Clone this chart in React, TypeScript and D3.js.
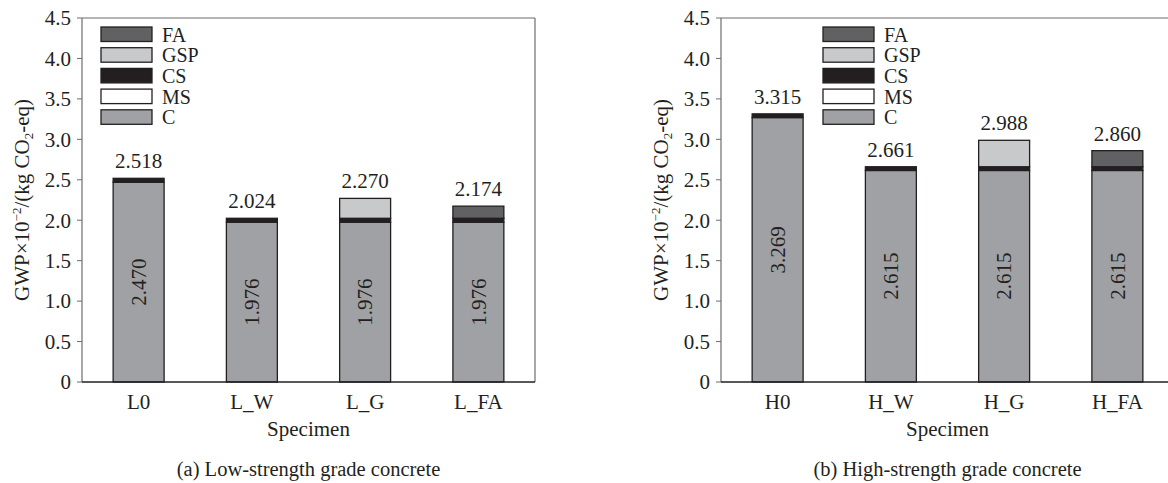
import React from "react";
import * as d3 from "d3";

const keys = ["C", "MS", "CS", "GSP", "FA"];
const legendOrder = ["FA", "GSP", "CS", "MS", "C"];
const colors: Record<string, string> = {
  C: "#a0a1a4",
  MS: "#ffffff",
  CS: "#231f20",
  GSP: "#c8c9cb",
  FA: "#616163",
};

const lowSpecimens = ["L0", "L_W", "L_G", "L_FA"];
const lowC = [2.47, 1.976, 1.976, 1.976];
const lowMS = [0, 0, 0, 0];
const lowCS = [0.048, 0.048, 0.048, 0.048];
const lowGSP = [0, 0, 0.246, 0];
const lowFA = [0, 0, 0, 0.15];

const highSpecimens = ["H0", "H_W", "H_G", "H_FA"];
const highC = [3.269, 2.615, 2.615, 2.615];
const highMS = [0, 0, 0, 0];
const highCS = [0.046, 0.046, 0.046, 0.046];
const highGSP = [0, 0, 0.327, 0];
const highFA = [0, 0, 0, 0.199];

const yTicks = [0, 0.5, 1.0, 1.5, 2.0, 2.5, 3.0, 3.5, 4.0, 4.5];

const FONT = "Liberation Serif, Times New Roman, Times, serif";
const INK = "#231f20";
const FS = 21;

type PanelProps = {
  x0: number;
  specimens: string[];
  series: Record<string, number[]>;
  caption: string;
  legendX: number;
};

function Panel({ x0, specimens, series, caption, legendX }: PanelProps) {
  const top = 18;
  const bottom = 382;
  const width = 453;
  const x1 = x0 + width;
  const y = d3.scaleLinear().domain([0, 4.5]).range([bottom, top]);
  const x = d3
    .scaleBand<string>()
    .domain(specimens)
    .range([x0, x1])
    .paddingInner(0.55)
    .paddingOuter(0.275);
  const rows = specimens.map((s, i) => {
    const r: any = { name: s };
    keys.forEach((k) => (r[k] = series[k][i]));
    return r;
  });
  const stacked = d3.stack<any>().keys(keys)(rows);
  const totals = rows.map((r) => d3.sum(keys, (k) => r[k]));
  const midY = (top + bottom) / 2;
  const labelX = x0 - 60;
  return (
    <g fontFamily={FONT} fill={INK}>
      <line x1={x0} x2={x1} y1={top} y2={top} stroke="#6d6d6d" strokeWidth={1.2} />
      <line x1={x1} x2={x1} y1={top} y2={bottom} stroke="#6d6d6d" strokeWidth={1.2} />
      <line x1={x0} x2={x0} y1={top} y2={bottom} stroke="#6d6d6d" strokeWidth={1.2} />
      {yTicks.map((t) => (
        <g key={t}>
          <line x1={x0 - 5} x2={x0} y1={y(t)} y2={y(t)} stroke="#6d6d6d" strokeWidth={1} />
          <text x={x0 - 11} y={y(t)} dy="0.35em" textAnchor="end" fontSize={FS}>
            {t === 0 ? "0" : t.toFixed(1)}
          </text>
        </g>
      ))}
      {stacked.map((layer) =>
        layer.map((d, i) => {
          const h = y(d[0]) - y(d[1]);
          if (h <= 0) return null;
          return (
            <rect
              key={layer.key + i}
              x={x(specimens[i])}
              y={y(d[1])}
              width={x.bandwidth()}
              height={h}
              fill={colors[layer.key]}
              stroke={INK}
              strokeWidth={1.3}
            />
          );
        })
      )}
      {specimens.map((s, i) => {
        const cx = (x(s) as number) + x.bandwidth() / 2;
        const cy = (y(0) + y(series.C[i])) / 2;
        return (
          <text
            key={"in" + s}
            transform={`translate(${cx},${cy}) rotate(-90)`}
            textAnchor="middle"
            dy="0.35em"
            fontSize={FS}
          >
            {series.C[i].toFixed(3)}
          </text>
        );
      })}
      {specimens.map((s, i) => (
        <text
          key={"tot" + s}
          x={(x(s) as number) + x.bandwidth() / 2}
          y={y(totals[i]) - 10}
          textAnchor="middle"
          fontSize={FS}
        >
          {totals[i].toFixed(3)}
        </text>
      ))}
      <line x1={x0} x2={x1} y1={bottom} y2={bottom} stroke={INK} strokeWidth={1.5} />
      {specimens.map((s) => (
        <text
          key={"xt" + s}
          x={(x(s) as number) + x.bandwidth() / 2}
          y={409}
          textAnchor="middle"
          fontSize={FS}
        >
          {s}
        </text>
      ))}
      <text x={(x0 + x1) / 2} y={436} textAnchor="middle" fontSize={FS}>
        Specimen
      </text>
      <text x={(x0 + x1) / 2} y={476} textAnchor="middle" fontSize={20.5}>
        {caption}
      </text>
      <text
        transform={`translate(${labelX},${midY}) rotate(-90)`}
        textAnchor="middle"
        dy="0.35em"
        fontSize={FS}
      >
        <tspan>GWP×10</tspan>
        <tspan fontSize={13} dy="-8">−2</tspan>
        <tspan dy="8">/(kg CO</tspan>
        <tspan fontSize={13} dy="4">2</tspan>
        <tspan dy="-4">-eq)</tspan>
      </text>
      {legendOrder.map((k, i) => {
        const ly = 27 + i * 20.7;
        return (
          <g key={"lg" + k}>
            <rect x={legendX} y={ly} width={51} height={14.5} fill={colors[k]} stroke={INK} strokeWidth={1.3} />
            <text x={legendX + 61} y={ly + 7.5} dy="0.35em" fontSize={20}>
              {k}
            </text>
          </g>
        );
      })}
    </g>
  );
}

export default function App() {
  return (
    <svg width={1168} height={483} style={{ position: "absolute", left: 0, top: 0, background: "#fff" }}>
      <rect width={1168} height={483} fill="#fff" />
      <Panel
        x0={82}
        specimens={lowSpecimens}
        series={{ C: lowC, MS: lowMS, CS: lowCS, GSP: lowGSP, FA: lowFA }}
        caption="(a) Low-strength grade concrete"
        legendX={101}
      />
      <Panel
        x0={721}
        specimens={highSpecimens}
        series={{ C: highC, MS: highMS, CS: highCS, GSP: highGSP, FA: highFA }}
        caption="(b) High-strength grade concrete"
        legendX={823}
      />
    </svg>
  );
}
